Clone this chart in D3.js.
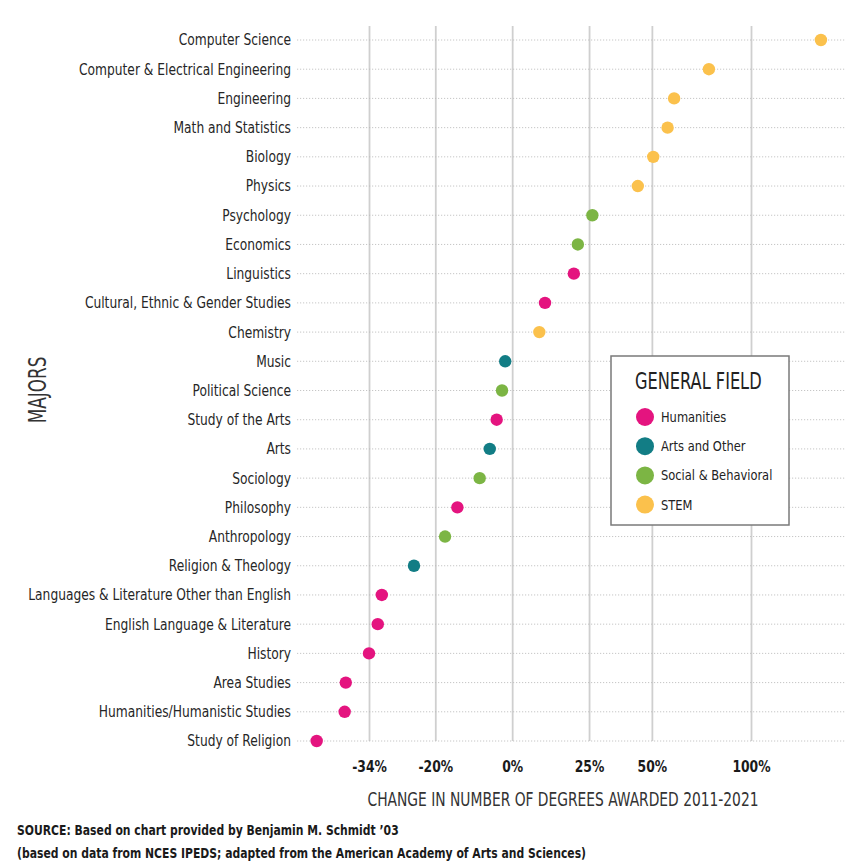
<!DOCTYPE html>
<html>
<head>
<meta charset="utf-8">
<script src="https://cdn.jsdelivr.net/npm/d3@7"></script>
<style>
  html, body { margin: 0; padding: 0; background: #fff; }
  svg { display: block; }
  text { font-family: 'Liberation Sans Narrow', 'DejaVu Sans Condensed', 'Arial Narrow', sans-serif; font-stretch: condensed; }
</style>
</head>
<body>
<svg id="chart" width="862" height="868"></svg>
<script>
const majors = [
  "Computer Science", "Computer & Electrical Engineering", "Engineering", "Math and Statistics",
  "Biology", "Physics", "Psychology", "Economics", "Linguistics", "Cultural, Ethnic & Gender Studies",
  "Chemistry", "Music", "Political Science", "Study of the Arts", "Arts", "Sociology", "Philosophy",
  "Anthropology", "Religion & Theology", "Languages & Literature Other than English",
  "English Language & Literature", "History", "Area Studies", "Humanities/Humanistic Studies",
  "Study of Religion"
];
const fields = [
  "STEM", "STEM", "STEM", "STEM",
  "STEM", "STEM", "Social & Behavioral", "Social & Behavioral", "Humanities", "Humanities",
  "STEM", "Arts and Other", "Social & Behavioral", "Humanities", "Arts and Other", "Social & Behavioral", "Humanities",
  "Social & Behavioral", "Arts and Other", "Humanities",
  "Humanities", "Humanities", "Humanities", "Humanities",
  "Humanities"
];
const changePct = [
  145, 77, 60, 57,
  50.6, 44, 26.2, 21, 19.6, 10,
  8.2, -2, -2.9, -4.4, -6.3, -9, -14.7,
  -17.7, -24.8, -31.5,
  -32.3, -34, -38.3, -38.5,
  -43.3
];
const tickPct = [-34, -20, 0, 25, 50, 100];
const tickLabels = ["-34%", "-20%", "0%", "25%", "50%", "100%"];
const legendFields = ["Humanities", "Arts and Other", "Social & Behavioral", "STEM"];
const legendColors = ["#e4147f", "#127d85", "#7cb544", "#fbc14c"];

const svg = d3.select("#chart");
svg.append("rect").attr("width", 862).attr("height", 868).attr("fill", "#fff");

const color = d3.scaleOrdinal().domain(legendFields).range(legendColors);

// ratio (1 + change) on a log scale
const x = d3.scaleLog().domain([1 + tickPct[0] / 100, 1 + tickPct[tickPct.length - 1] / 100]).range([369, 751]);
const xp = v => x(1 + v / 100);
const y = d3.scalePoint().domain(majors).range([40, 741]);

const gridTop = 26, gridBottom = 741;

// place text at (px,py) with horizontal condensing
function squeezed(sel, px, py, sx) {
  return sel.attr("transform", `translate(${px},${py}) scale(${sx},1)`);
}

// vertical grid + tick labels via axis
const pix = d3.scaleIdentity();
const axisG = svg.append("g").attr("transform", `translate(0,${gridBottom})`)
  .call(d3.axisBottom(pix).tickValues(tickPct.map(v => xp(v)))
    .tickFormat((d, i) => tickLabels[i])
    .tickSize(-(gridBottom - gridTop)).tickPadding(0));
axisG.select(".domain").remove();
axisG.selectAll(".tick line").attr("stroke", "#cfcfcf").attr("stroke-width", 1.8);
axisG.selectAll(".tick text")
  .attr("y", 0).attr("dy", null)
  .attr("transform", "translate(0,31) scale(0.86,1)")
  .attr("font-size", 16).attr("font-weight", "bold").attr("fill", "#1a1a1a");

// horizontal dotted row lines
svg.append("g").selectAll("line").data(majors).join("line")
  .attr("x1", 297).attr("x2", 845)
  .attr("y1", d => y(d)).attr("y2", d => y(d))
  .attr("stroke", "#b8b8b8").attr("stroke-width", 0.8)
  .attr("stroke-dasharray", "1.2,1.8");

// row labels
svg.append("g").selectAll("text").data(majors).join("text")
  .attr("transform", d => `translate(291,${y(d)}) scale(0.88,1)`)
  .attr("dy", "0.35em")
  .attr("text-anchor", "end").attr("font-size", 15.5).attr("fill", "#262626")
  .text(d => d);

// dots
svg.append("g").selectAll("circle").data(majors).join("circle")
  .attr("cx", (d, i) => xp(changePct[i]))
  .attr("cy", d => y(d))
  .attr("r", 6.2)
  .attr("fill", (d, i) => color(fields[i]));

// axis titles
squeezed(svg.append("text"), 563, 806, 0.81).attr("text-anchor", "middle")
  .attr("font-size", 19).attr("fill", "#333")
  .text("CHANGE IN NUMBER OF DEGREES AWARDED 2011-2021");
svg.append("text").attr("transform", "translate(46,390) rotate(-90) scale(0.78,1)")
  .attr("text-anchor", "middle").attr("font-size", 24).attr("fill", "#333")
  .text("MAJORS");

// legend
const lg = svg.append("g");
lg.append("rect").attr("x", 611).attr("y", 356).attr("width", 178).attr("height", 169)
  .attr("fill", "#fff").attr("stroke", "#7a7a7a").attr("stroke-width", 1.5);
squeezed(lg.append("text"), 635, 389, 0.8).attr("font-size", 22.5).attr("fill", "#222")
  .text("GENERAL FIELD");
const items = lg.selectAll("g.item").data(legendFields).join("g").attr("class", "item")
  .attr("transform", (d, i) => `translate(645,${417 + i * 29.2})`);
items.append("circle").attr("r", 9).attr("fill", d => color(d));
items.append("text").attr("transform", "translate(16,0) scale(0.88,1)").attr("dy", "0.35em")
  .attr("font-size", 14.5).attr("fill", "#222")
  .text(d => d);

// source
squeezed(svg.append("text"), 17, 835, 0.86).attr("font-size", 14).attr("font-weight", "bold").attr("fill", "#1a1a1a")
  .text("SOURCE: Based on chart provided by Benjamin M. Schmidt \u201903");
squeezed(svg.append("text"), 17, 858, 0.86).attr("font-size", 14).attr("font-weight", "bold").attr("fill", "#1a1a1a")
  .text("(based on data from NCES IPEDS; adapted from the American Academy of Arts and Sciences)");
</script>
</body>
</html>
